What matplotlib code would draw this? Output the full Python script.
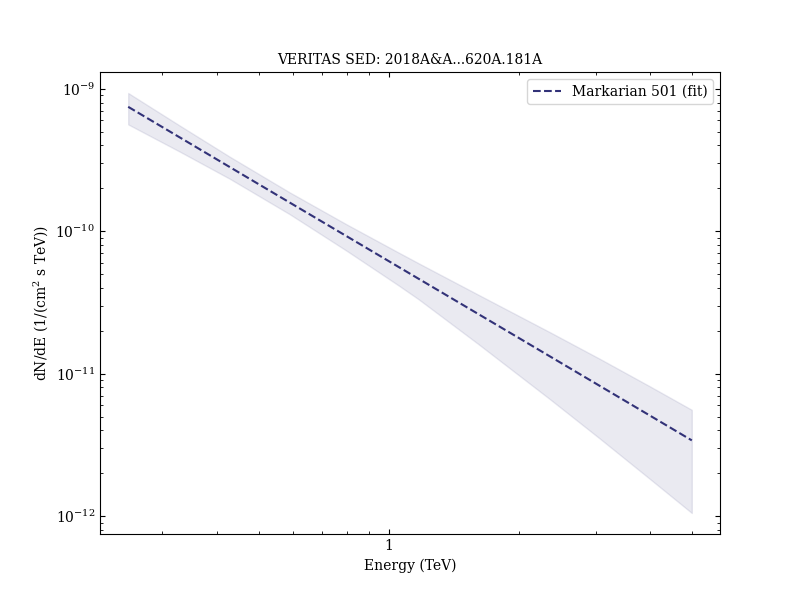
import numpy as np
import matplotlib
matplotlib.use('Agg')
import matplotlib.pyplot as plt
from matplotlib.ticker import FuncFormatter, NullFormatter, LogLocator

# energies (TeV) and fitted flux
fit_energy = [0.25, 0.5, 1.0, 2.0, 5.0]
fit_flux = [7.47e-10, 2.14e-10, 6.15e-11, 1.77e-11, 3.4e-12]

# error band edges (1/(cm2 s TeV))
band_energy = [0.25, 0.33, 0.43, 0.59, 0.8, 1.05, 1.17, 1.6, 2.35, 3.07, 4.0, 5.0]
band_upper = [9.34e-10, 5.48e-10, 3.32e-10, 1.873e-10, 1.113e-10, 7.11e-11,
              5.96e-11, 3.61e-11, 1.957e-11, 1.268e-11, 8.15e-12, 5.57e-12]
band_lower = [5.62e-10, 3.60e-10, 2.325e-10, 1.316e-10, 7.26e-11, 4.18e-11,
              3.33e-11, 1.631e-11, 6.63e-12, 3.49e-12, 1.824e-12, 1.051e-12]

label = 'Markarian 501 (fit)'
title = 'VERITAS SED: 2018A&A...620A.181A'

plt.rcParams['font.family'] = 'DejaVu Serif'
plt.rcParams['mathtext.fontset'] = 'dejavuserif'

color = '#323278'

fig, ax = plt.subplots(figsize=(8, 6), dpi=100)
ax.fill_between(band_energy, band_lower, band_upper, color=color, alpha=0.1)
ax.plot(fit_energy, fit_flux, '--', color=color, label=label)

ax.set_xscale('log')
ax.set_yscale('log')
ax.xaxis.set_major_formatter(FuncFormatter(lambda v, p: f'{v:g}'))
ax.xaxis.set_minor_formatter(NullFormatter())
ax.yaxis.set_minor_locator(LogLocator(base=10, subs=np.arange(2, 10), numticks=20))
ax.tick_params(which='both', direction='in', top=True, right=True)

ax.set_xlabel('Energy (TeV)')
ax.set_ylabel('dN/dE (1/(cm$^2$ s TeV))')
ax.set_title(title, fontsize=10)
ax.legend(loc='upper right')

plt.savefig('out.png')
